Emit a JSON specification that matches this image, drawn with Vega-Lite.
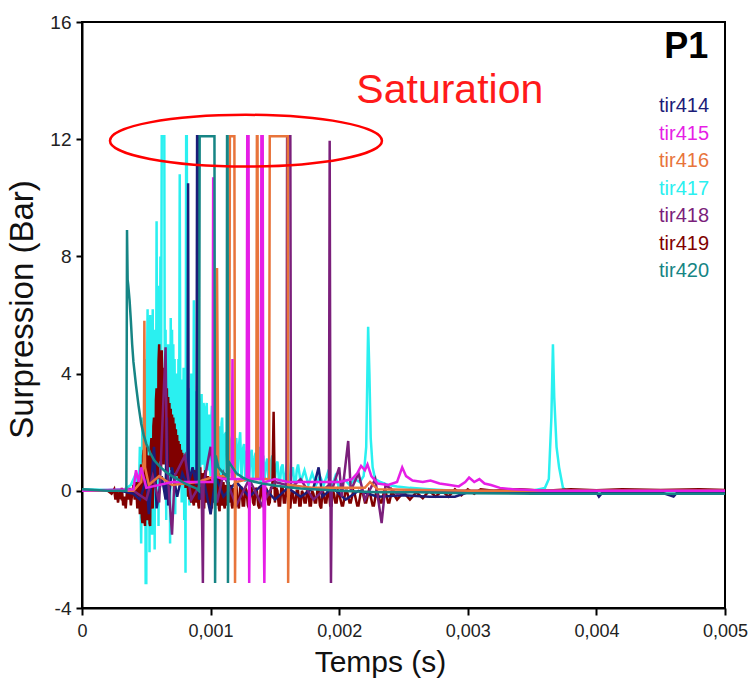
{
  "$schema": "https://vega.github.io/schema/vega-lite/v6.json",
  "width": 643,
  "height": 586,
  "autosize": {"type": "none"},
  "padding": {"left": 82, "top": 22, "right": 25, "bottom": 74},
  "background": "white",
  "config": {
    "font": "Liberation Sans",
    "view": {"stroke": "black", "strokeWidth": 2},
    "axis": {"grid": false, "domainColor": "black", "domainWidth": 2, "tickColor": "black", "tickWidth": 2, "labelColor": "#222", "titleColor": "#111", "labelFont": "Liberation Sans", "titleFont": "Liberation Sans", "titleFontWeight": "normal", "labelFlush": false}
  },
  "layer": [
    {
      "data": {"values": [
{"s":"tir417","t":0,"p":0.05},{"s":"tir417","t":0.0002,"p":0.03},{"s":"tir417","t":0.00033,"p":0.05},{"s":"tir417","t":0.00038,"p":0.2},{"s":"tir417","t":0.00042,"p":0.6},{"s":"tir417","t":0.00044,"p":-0.6},{"s":"tir417","t":0.00045,"p":1.5},{"s":"tir417","t":0.00046,"p":-1.8},{"s":"tir417","t":0.00047,"p":2.5},{"s":"tir417","t":0.00048,"p":-0.5},{"s":"tir417","t":0.00049,"p":4.5},{"s":"tir417","t":0.000495,"p":-3.15},{"s":"tir417","t":0.0005,"p":-3.15},{"s":"tir417","t":0.000505,"p":3.8},{"s":"tir417","t":0.00051,"p":6.2},{"s":"tir417","t":0.000515,"p":-1},{"s":"tir417","t":0.00052,"p":5.9},{"s":"tir417","t":0.000525,"p":-2.1},{"s":"tir417","t":0.00053,"p":6},{"s":"tir417","t":0.000535,"p":0.5},{"s":"tir417","t":0.00054,"p":5.5},{"s":"tir417","t":0.000545,"p":-1.5},{"s":"tir417","t":0.00055,"p":6.2},{"s":"tir417","t":0.000555,"p":1},{"s":"tir417","t":0.00056,"p":4.8},{"s":"tir417","t":0.000565,"p":-2},{"s":"tir417","t":0.00057,"p":5.5},{"s":"tir417","t":0.000575,"p":0.2},{"s":"tir417","t":0.00058,"p":9.2},{"s":"tir417","t":0.000585,"p":1.5},{"s":"tir417","t":0.00059,"p":7},{"s":"tir417","t":0.000595,"p":-1.2},{"s":"tir417","t":0.0006,"p":6},{"s":"tir417","t":0.000605,"p":2},{"s":"tir417","t":0.00061,"p":8},{"s":"tir417","t":0.000615,"p":3},{"s":"tir417","t":0.00062,"p":12.1},{"s":"tir417","t":0.00064,"p":12.1},{"s":"tir417","t":0.000645,"p":1},{"s":"tir417","t":0.00065,"p":5.5},{"s":"tir417","t":0.000655,"p":-1},{"s":"tir417","t":0.00066,"p":4},{"s":"tir417","t":0.000665,"p":-0.5},{"s":"tir417","t":0.00067,"p":5},{"s":"tir417","t":0.000675,"p":1.5},{"s":"tir417","t":0.00068,"p":4.8},{"s":"tir417","t":0.000685,"p":-1.8},{"s":"tir417","t":0.00069,"p":5.9},{"s":"tir417","t":0.000695,"p":0.5},{"s":"tir417","t":0.0007,"p":5.5},{"s":"tir417","t":0.000705,"p":2},{"s":"tir417","t":0.00071,"p":5},{"s":"tir417","t":0.000715,"p":0},{"s":"tir417","t":0.00072,"p":4.5},{"s":"tir417","t":0.000725,"p":-0.8},{"s":"tir417","t":0.00073,"p":4},{"s":"tir417","t":0.000735,"p":1},{"s":"tir417","t":0.00074,"p":3.6},{"s":"tir417","t":0.000745,"p":0.2},{"s":"tir417","t":0.00075,"p":4.5},{"s":"tir417","t":0.000755,"p":1},{"s":"tir417","t":0.00076,"p":10.8},{"s":"tir417","t":0.000765,"p":1.5},{"s":"tir417","t":0.00077,"p":3.8},{"s":"tir417","t":0.000775,"p":-0.4},{"s":"tir417","t":0.00078,"p":3.5},{"s":"tir417","t":0.000785,"p":0.5},{"s":"tir417","t":0.00079,"p":4.2},{"s":"tir417","t":0.000795,"p":-1},{"s":"tir417","t":0.0008,"p":3},{"s":"tir417","t":0.000805,"p":-2.8},{"s":"tir417","t":0.00081,"p":12.1},{"s":"tir417","t":0.000815,"p":12.1},{"s":"tir417","t":0.00082,"p":2.5},{"s":"tir417","t":0.000825,"p":0.3},{"s":"tir417","t":0.00083,"p":3.5},{"s":"tir417","t":0.000835,"p":-0.5},{"s":"tir417","t":0.00084,"p":3},{"s":"tir417","t":0.000845,"p":0.8},{"s":"tir417","t":0.00085,"p":4},{"s":"tir417","t":0.000855,"p":-0.3},{"s":"tir417","t":0.00086,"p":3.2},{"s":"tir417","t":0.000865,"p":1},{"s":"tir417","t":0.00087,"p":6.5},{"s":"tir417","t":0.000875,"p":0.5},{"s":"tir417","t":0.00088,"p":3.4},{"s":"tir417","t":0.000885,"p":0.6},{"s":"tir417","t":0.00089,"p":3},{"s":"tir417","t":0.000895,"p":1.2},{"s":"tir417","t":0.0009,"p":1},{"s":"tir417","t":0.000905,"p":3.2},{"s":"tir417","t":0.00091,"p":3.1},{"s":"tir417","t":0.000915,"p":1.1},{"s":"tir417","t":0.00092,"p":0.8},{"s":"tir417","t":0.000925,"p":2.9},{"s":"tir417","t":0.00093,"p":3.3},{"s":"tir417","t":0.000935,"p":0.9},{"s":"tir417","t":0.00094,"p":1},{"s":"tir417","t":0.000945,"p":3},{"s":"tir417","t":0.00095,"p":2.8},{"s":"tir417","t":0.000955,"p":0.7},{"s":"tir417","t":0.00096,"p":0.6},{"s":"tir417","t":0.000965,"p":2.7},{"s":"tir417","t":0.00097,"p":3},{"s":"tir417","t":0.000975,"p":0.9},{"s":"tir417","t":0.00098,"p":0.7},{"s":"tir417","t":0.000985,"p":2.5},{"s":"tir417","t":0.00099,"p":2.6},{"s":"tir417","t":0.000995,"p":0.8},{"s":"tir417","t":0.001,"p":0.5},{"s":"tir417","t":0.001005,"p":2.4},{"s":"tir417","t":0.00101,"p":2.9},{"s":"tir417","t":0.001015,"p":0.7},{"s":"tir417","t":0.00102,"p":0.6},{"s":"tir417","t":0.001025,"p":2.3},{"s":"tir417","t":0.00103,"p":2.4},{"s":"tir417","t":0.001035,"p":0.5},{"s":"tir417","t":0.00104,"p":0.8},{"s":"tir417","t":0.001045,"p":2.2},{"s":"tir417","t":0.00105,"p":2.6},{"s":"tir417","t":0.001055,"p":0.6},{"s":"tir417","t":0.00106,"p":0.5},{"s":"tir417","t":0.001065,"p":2.1},{"s":"tir417","t":0.00107,"p":2.2},{"s":"tir417","t":0.001075,"p":0.5},{"s":"tir417","t":0.00108,"p":0.6},{"s":"tir417","t":0.001085,"p":2.3},{"s":"tir417","t":0.00109,"p":2.5},{"s":"tir417","t":0.0011,"p":0.4},{"s":"tir417","t":0.00111,"p":1.9},{"s":"tir417","t":0.00112,"p":2},{"s":"tir417","t":0.00113,"p":0.5},{"s":"tir417","t":0.00114,"p":2.3},{"s":"tir417","t":0.00115,"p":0.6},{"s":"tir417","t":0.00116,"p":1.7},{"s":"tir417","t":0.00117,"p":1.9},{"s":"tir417","t":0.00118,"p":0.4},{"s":"tir417","t":0.00119,"p":1.6},{"s":"tir417","t":0.0012,"p":1.8},{"s":"tir417","t":0.00121,"p":0.5},{"s":"tir417","t":0.00122,"p":1.5},{"s":"tir417","t":0.00123,"p":2},{"s":"tir417","t":0.00124,"p":0.4},{"s":"tir417","t":0.00125,"p":1.4},{"s":"tir417","t":0.00126,"p":1.6},{"s":"tir417","t":0.00127,"p":0.3},{"s":"tir417","t":0.00128,"p":1.3},{"s":"tir417","t":0.00129,"p":1.5},{"s":"tir417","t":0.0013,"p":0.4},{"s":"tir417","t":0.00131,"p":1.2},{"s":"tir417","t":0.00132,"p":1.4},{"s":"tir417","t":0.00133,"p":0.3},{"s":"tir417","t":0.00134,"p":1.1},{"s":"tir417","t":0.00135,"p":1.3},{"s":"tir417","t":0.00136,"p":0.4},{"s":"tir417","t":0.00137,"p":1.2},{"s":"tir417","t":0.00138,"p":1.5},{"s":"tir417","t":0.00139,"p":0.3},{"s":"tir417","t":0.0014,"p":1},{"s":"tir417","t":0.00141,"p":1.2},{"s":"tir417","t":0.00142,"p":0.4},{"s":"tir417","t":0.00143,"p":0.9},{"s":"tir417","t":0.00144,"p":1.1},{"s":"tir417","t":0.00145,"p":0.4},{"s":"tir417","t":0.00146,"p":0.3},{"s":"tir417","t":0.00147,"p":1},{"s":"tir417","t":0.00148,"p":1.2},{"s":"tir417","t":0.00149,"p":0.4},{"s":"tir417","t":0.0015,"p":0.3},{"s":"tir417","t":0.00151,"p":0.9},{"s":"tir417","t":0.00152,"p":1},{"s":"tir417","t":0.00153,"p":0.4},{"s":"tir417","t":0.00154,"p":0.3},{"s":"tir417","t":0.00155,"p":0.8},{"s":"tir417","t":0.00156,"p":0.9},{"s":"tir417","t":0.00157,"p":0.4},{"s":"tir417","t":0.00158,"p":0.3},{"s":"tir417","t":0.00159,"p":0.8},{"s":"tir417","t":0.0016,"p":1},{"s":"tir417","t":0.00161,"p":0.4},{"s":"tir417","t":0.00162,"p":0.3},{"s":"tir417","t":0.00163,"p":0.7},{"s":"tir417","t":0.00164,"p":0.8},{"s":"tir417","t":0.00165,"p":0.3},{"s":"tir417","t":0.00166,"p":0.2},{"s":"tir417","t":0.00167,"p":0.7},{"s":"tir417","t":0.00168,"p":0.9},{"s":"tir417","t":0.0017,"p":0.3},{"s":"tir417","t":0.00173,"p":0.7},{"s":"tir417","t":0.00176,"p":0.2},{"s":"tir417","t":0.00179,"p":0.6},{"s":"tir417","t":0.00182,"p":0.2},{"s":"tir417","t":0.00185,"p":0.5},{"s":"tir417","t":0.00188,"p":0.2},{"s":"tir417","t":0.00191,"p":0.6},{"s":"tir417","t":0.00194,"p":0.1},{"s":"tir417","t":0.00197,"p":0.5},{"s":"tir417","t":0.002,"p":0.1},{"s":"tir417","t":0.00204,"p":0.4},{"s":"tir417","t":0.00208,"p":0.2},{"s":"tir417","t":0.00212,"p":0.4},{"s":"tir417","t":0.00216,"p":0.3},{"s":"tir417","t":0.00219,"p":0.5},{"s":"tir417","t":0.00221,"p":1.5},{"s":"tir417","t":0.002225,"p":5.6},{"s":"tir417","t":0.002235,"p":4},{"s":"tir417","t":0.002245,"p":1.8},{"s":"tir417","t":0.00226,"p":0.8},{"s":"tir417","t":0.00228,"p":0.4},{"s":"tir417","t":0.00232,"p":0.3},{"s":"tir417","t":0.00238,"p":0.2},{"s":"tir417","t":0.00245,"p":0.15},{"s":"tir417","t":0.00255,"p":0.1},{"s":"tir417","t":0.0027,"p":0.05},{"s":"tir417","t":0.0029,"p":0},{"s":"tir417","t":0.0031,"p":-0.05},{"s":"tir417","t":0.0033,"p":-0.05},{"s":"tir417","t":0.0035,"p":0},{"s":"tir417","t":0.0036,"p":0.1},{"s":"tir417","t":0.00363,"p":0.4},{"s":"tir417","t":0.00365,"p":2.5},{"s":"tir417","t":0.003662,"p":5},{"s":"tir417","t":0.003672,"p":3.2},{"s":"tir417","t":0.00369,"p":1.5},{"s":"tir417","t":0.00371,"p":0.8},{"s":"tir417","t":0.00374,"p":0.1},{"s":"tir417","t":0.0038,"p":-0.1},{"s":"tir417","t":0.004,"p":-0.1},{"s":"tir417","t":0.0043,"p":-0.08},{"s":"tir417","t":0.0046,"p":-0.1},{"s":"tir417","t":0.005,"p":-0.08},

{"s":"tir419","t":0,"p":0},{"s":"tir419","t":0.0001,"p":0},{"s":"tir419","t":0.0002,"p":0},{"s":"tir419","t":0.00023,"p":-0.1},{"s":"tir419","t":0.00025,"p":0.05},{"s":"tir419","t":0.00026,"p":-0.3},{"s":"tir419","t":0.00027,"p":0},{"s":"tir419","t":0.00028,"p":-0.4},{"s":"tir419","t":0.00029,"p":-0.1},{"s":"tir419","t":0.0003,"p":-0.2},{"s":"tir419","t":0.00031,"p":0.1},{"s":"tir419","t":0.00032,"p":-0.5},{"s":"tir419","t":0.00033,"p":-0.2},{"s":"tir419","t":0.00034,"p":-0.6},{"s":"tir419","t":0.00035,"p":0},{"s":"tir419","t":0.00036,"p":-0.3},{"s":"tir419","t":0.00037,"p":0.1},{"s":"tir419","t":0.00038,"p":-0.5},{"s":"tir419","t":0.00039,"p":-0.1},{"s":"tir419","t":0.0004,"p":0.2},{"s":"tir419","t":0.00041,"p":-0.3},{"s":"tir419","t":0.00042,"p":0.3},{"s":"tir419","t":0.00043,"p":-0.6},{"s":"tir419","t":0.00044,"p":0.5},{"s":"tir419","t":0.00045,"p":-0.8},{"s":"tir419","t":0.000455,"p":0.6},{"s":"tir419","t":0.00046,"p":0.9},{"s":"tir419","t":0.000465,"p":-0.9},{"s":"tir419","t":0.00047,"p":-1.1},{"s":"tir419","t":0.000475,"p":1.2},{"s":"tir419","t":0.00048,"p":1.4},{"s":"tir419","t":0.000485,"p":-1},{"s":"tir419","t":0.00049,"p":-1.2},{"s":"tir419","t":0.000495,"p":1.3},{"s":"tir419","t":0.0005,"p":1.5},{"s":"tir419","t":0.000505,"p":-0.9},{"s":"tir419","t":0.00051,"p":-1},{"s":"tir419","t":0.000515,"p":1.1},{"s":"tir419","t":0.00052,"p":1.2},{"s":"tir419","t":0.000525,"p":-1.1},{"s":"tir419","t":0.00053,"p":-1.2},{"s":"tir419","t":0.000535,"p":1.5},{"s":"tir419","t":0.00054,"p":1.8},{"s":"tir419","t":0.000545,"p":-0.5},{"s":"tir419","t":0.00055,"p":-0.6},{"s":"tir419","t":0.000555,"p":2.2},{"s":"tir419","t":0.00056,"p":2.5},{"s":"tir419","t":0.000565,"p":0.1},{"s":"tir419","t":0.00057,"p":0.2},{"s":"tir419","t":0.000575,"p":3.1},{"s":"tir419","t":0.00058,"p":3.5},{"s":"tir419","t":0.000585,"p":0.4},{"s":"tir419","t":0.00059,"p":0.5},{"s":"tir419","t":0.000595,"p":4.4},{"s":"tir419","t":0.0006,"p":5},{"s":"tir419","t":0.000605,"p":1},{"s":"tir419","t":0.00061,"p":4.6},{"s":"tir419","t":0.000615,"p":0.8},{"s":"tir419","t":0.00062,"p":4.8},{"s":"tir419","t":0.000625,"p":1.2},{"s":"tir419","t":0.00063,"p":4},{"s":"tir419","t":0.000635,"p":0.9},{"s":"tir419","t":0.00064,"p":4.2},{"s":"tir419","t":0.000645,"p":1.3},{"s":"tir419","t":0.00065,"p":3.8},{"s":"tir419","t":0.000655,"p":1},{"s":"tir419","t":0.00066,"p":3.5},{"s":"tir419","t":0.000665,"p":1.2},{"s":"tir419","t":0.00067,"p":3.2},{"s":"tir419","t":0.000675,"p":0.8},{"s":"tir419","t":0.00068,"p":3},{"s":"tir419","t":0.000685,"p":1},{"s":"tir419","t":0.00069,"p":2.8},{"s":"tir419","t":0.000695,"p":0.7},{"s":"tir419","t":0.0007,"p":2.6},{"s":"tir419","t":0.000705,"p":0.8},{"s":"tir419","t":0.00071,"p":2.5},{"s":"tir419","t":0.000715,"p":0.6},{"s":"tir419","t":0.00072,"p":2.3},{"s":"tir419","t":0.000725,"p":0.7},{"s":"tir419","t":0.00073,"p":2.1},{"s":"tir419","t":0.000735,"p":0.5},{"s":"tir419","t":0.00074,"p":1.9},{"s":"tir419","t":0.000745,"p":0.6},{"s":"tir419","t":0.00075,"p":1.7},{"s":"tir419","t":0.000755,"p":0.4},{"s":"tir419","t":0.00076,"p":1.6},{"s":"tir419","t":0.000765,"p":0.5},{"s":"tir419","t":0.00077,"p":1.4},{"s":"tir419","t":0.000775,"p":0.3},{"s":"tir419","t":0.00078,"p":1.3},{"s":"tir419","t":0.000785,"p":0.4},{"s":"tir419","t":0.00079,"p":1.2},{"s":"tir419","t":0.000795,"p":0.2},{"s":"tir419","t":0.0008,"p":1.1},{"s":"tir419","t":0.000805,"p":0.1},{"s":"tir419","t":0.00081,"p":0.9},{"s":"tir419","t":0.000815,"p":0.2},{"s":"tir419","t":0.00082,"p":0.8},{"s":"tir419","t":0.000825,"p":-0.2},{"s":"tir419","t":0.00083,"p":0.7},{"s":"tir419","t":0.000835,"p":-0.3},{"s":"tir419","t":0.00084,"p":0.6},{"s":"tir419","t":0.000845,"p":-0.3},{"s":"tir419","t":0.00085,"p":-0.4},{"s":"tir419","t":0.000855,"p":0.6},{"s":"tir419","t":0.00086,"p":0.5},{"s":"tir419","t":0.000865,"p":-0.4},{"s":"tir419","t":0.00087,"p":-0.5},{"s":"tir419","t":0.000875,"p":0.6},{"s":"tir419","t":0.00088,"p":0.7},{"s":"tir419","t":0.000885,"p":-0.3},{"s":"tir419","t":0.00089,"p":-0.4},{"s":"tir419","t":0.000895,"p":0.5},{"s":"tir419","t":0.0009,"p":0.6},{"s":"tir419","t":0.000905,"p":-0.5},{"s":"tir419","t":0.00091,"p":-0.6},{"s":"tir419","t":0.000915,"p":0.7},{"s":"tir419","t":0.00092,"p":0.8},{"s":"tir419","t":0.000925,"p":-0.2},{"s":"tir419","t":0.00093,"p":-0.3},{"s":"tir419","t":0.000935,"p":0.6},{"s":"tir419","t":0.00094,"p":0.5},{"s":"tir419","t":0.000945,"p":-0.5},{"s":"tir419","t":0.00095,"p":-0.6},{"s":"tir419","t":0.000955,"p":0.6},{"s":"tir419","t":0.00096,"p":0.7},{"s":"tir419","t":0.000965,"p":-0.3},{"s":"tir419","t":0.00097,"p":-0.4},{"s":"tir419","t":0.000975,"p":0.4},{"s":"tir419","t":0.00098,"p":0.5},{"s":"tir419","t":0.000985,"p":-0.4},{"s":"tir419","t":0.00099,"p":-0.5},{"s":"tir419","t":0.000995,"p":0.4},{"s":"tir419","t":0.001,"p":0.3},{"s":"tir419","t":0.001005,"p":-0.5},{"s":"tir419","t":0.00101,"p":-0.6},{"s":"tir419","t":0.001015,"p":0.3},{"s":"tir419","t":0.00102,"p":0.4},{"s":"tir419","t":0.001025,"p":-0.3},{"s":"tir419","t":0.00103,"p":-0.4},{"s":"tir419","t":0.001035,"p":0.3},{"s":"tir419","t":0.00104,"p":0.2},{"s":"tir419","t":0.001045,"p":-0.4},{"s":"tir419","t":0.00105,"p":-0.5},{"s":"tir419","t":0.001055,"p":0.5},{"s":"tir419","t":0.00106,"p":0.6},{"s":"tir419","t":0.001065,"p":-0.6},{"s":"tir419","t":0.00107,"p":-0.7},{"s":"tir419","t":0.001075,"p":0.3},{"s":"tir419","t":0.00108,"p":0.4},{"s":"tir419","t":0.001085,"p":-0.4},{"s":"tir419","t":0.00109,"p":-0.5},{"s":"tir419","t":0.001095,"p":0.2},{"s":"tir419","t":0.0011,"p":0.3},{"s":"tir419","t":0.001105,"p":-0.5},{"s":"tir419","t":0.00111,"p":-0.6},{"s":"tir419","t":0.001115,"p":0.1},{"s":"tir419","t":0.00112,"p":0.2},{"s":"tir419","t":0.001125,"p":-0.4},{"s":"tir419","t":0.00113,"p":-0.5},{"s":"tir419","t":0.001135,"p":0.2},{"s":"tir419","t":0.00114,"p":0.3},{"s":"tir419","t":0.001145,"p":-0.3},{"s":"tir419","t":0.00115,"p":-0.4},{"s":"tir419","t":0.001155,"p":0.1},{"s":"tir419","t":0.00116,"p":0.2},{"s":"tir419","t":0.001165,"p":-0.5},{"s":"tir419","t":0.00117,"p":-0.6},{"s":"tir419","t":0.00118,"p":0.1},{"s":"tir419","t":0.00119,"p":-0.5},{"s":"tir419","t":0.0012,"p":0.2},{"s":"tir419","t":0.00121,"p":-0.4},{"s":"tir419","t":0.00122,"p":-0.6},{"s":"tir419","t":0.00123,"p":0.1},{"s":"tir419","t":0.00124,"p":0.1},{"s":"tir419","t":0.00125,"p":-0.5},{"s":"tir419","t":0.00126,"p":-0.5},{"s":"tir419","t":0.00127,"p":0.1},{"s":"tir419","t":0.00128,"p":0},{"s":"tir419","t":0.00129,"p":-0.5},{"s":"tir419","t":0.0013,"p":-0.6},{"s":"tir419","t":0.00131,"p":0.1},{"s":"tir419","t":0.00132,"p":0.1},{"s":"tir419","t":0.00133,"p":-0.4},{"s":"tir419","t":0.00134,"p":-0.5},{"s":"tir419","t":0.00135,"p":0.1},{"s":"tir419","t":0.00136,"p":0},{"s":"tir419","t":0.00137,"p":-0.5},{"s":"tir419","t":0.00138,"p":-0.6},{"s":"tir419","t":0.00139,"p":0.1},{"s":"tir419","t":0.0014,"p":0.1},{"s":"tir419","t":0.00141,"p":-0.4},{"s":"tir419","t":0.00142,"p":-0.5},{"s":"tir419","t":0.00143,"p":0.1},{"s":"tir419","t":0.00144,"p":0},{"s":"tir419","t":0.00145,"p":-0.5},{"s":"tir419","t":0.00146,"p":-0.4},{"s":"tir419","t":0.00147,"p":0.1},{"s":"tir419","t":0.00148,"p":0.1},{"s":"tir419","t":0.00149,"p":2.7},{"s":"tir419","t":0.0015,"p":-0.4},{"s":"tir419","t":0.00151,"p":0.1},{"s":"tir419","t":0.00152,"p":0},{"s":"tir419","t":0.00153,"p":-0.5},{"s":"tir419","t":0.00154,"p":-0.5},{"s":"tir419","t":0.00155,"p":0.1},{"s":"tir419","t":0.00156,"p":0.1},{"s":"tir419","t":0.00157,"p":-0.4},{"s":"tir419","t":0.00158,"p":-0.4},{"s":"tir419","t":0.00159,"p":0.1},{"s":"tir419","t":0.0016,"p":0},{"s":"tir419","t":0.00161,"p":-0.5},{"s":"tir419","t":0.00162,"p":-0.6},{"s":"tir419","t":0.00163,"p":0},{"s":"tir419","t":0.00164,"p":-0.1},{"s":"tir419","t":0.00165,"p":-0.4},{"s":"tir419","t":0.00166,"p":-0.4},{"s":"tir419","t":0.00167,"p":0},{"s":"tir419","t":0.00168,"p":0},{"s":"tir419","t":0.00169,"p":-0.5},{"s":"tir419","t":0.0017,"p":-0.5},{"s":"tir419","t":0.00171,"p":0},{"s":"tir419","t":0.00172,"p":-0.1},{"s":"tir419","t":0.00173,"p":-0.4},{"s":"tir419","t":0.00174,"p":-0.4},{"s":"tir419","t":0.00175,"p":0},{"s":"tir419","t":0.00176,"p":0},{"s":"tir419","t":0.00177,"p":-0.5},{"s":"tir419","t":0.00178,"p":-0.5},{"s":"tir419","t":0.00179,"p":0},{"s":"tir419","t":0.0018,"p":-0.1},{"s":"tir419","t":0.00181,"p":-0.4},{"s":"tir419","t":0.00182,"p":-0.4},{"s":"tir419","t":0.00183,"p":0},{"s":"tir419","t":0.00184,"p":0},{"s":"tir419","t":0.00185,"p":-0.5},{"s":"tir419","t":0.00186,"p":-0.6},{"s":"tir419","t":0.00187,"p":0},{"s":"tir419","t":0.00188,"p":-0.1},{"s":"tir419","t":0.00189,"p":-0.4},{"s":"tir419","t":0.0019,"p":-0.4},{"s":"tir419","t":0.00191,"p":0},{"s":"tir419","t":0.00192,"p":0},{"s":"tir419","t":0.00193,"p":-0.5},{"s":"tir419","t":0.00194,"p":-0.5},{"s":"tir419","t":0.00195,"p":0},{"s":"tir419","t":0.00196,"p":-0.1},{"s":"tir419","t":0.00197,"p":-0.4},{"s":"tir419","t":0.00198,"p":-0.4},{"s":"tir419","t":0.00199,"p":0},{"s":"tir419","t":0.002,"p":-0.1},{"s":"tir419","t":0.00202,"p":-0.5},{"s":"tir419","t":0.00203,"p":-0.5},{"s":"tir419","t":0.00205,"p":0},{"s":"tir419","t":0.00206,"p":0},{"s":"tir419","t":0.00208,"p":-0.4},{"s":"tir419","t":0.00209,"p":-0.4},{"s":"tir419","t":0.00211,"p":0},{"s":"tir419","t":0.00212,"p":-0.1},{"s":"tir419","t":0.00214,"p":-0.5},{"s":"tir419","t":0.00215,"p":-0.5},{"s":"tir419","t":0.00217,"p":0},{"s":"tir419","t":0.00218,"p":0},{"s":"tir419","t":0.0022,"p":-0.4},{"s":"tir419","t":0.00221,"p":-0.4},{"s":"tir419","t":0.00223,"p":0},{"s":"tir419","t":0.00224,"p":-0.1},{"s":"tir419","t":0.00226,"p":-0.5},{"s":"tir419","t":0.00227,"p":-0.5},{"s":"tir419","t":0.00229,"p":0},{"s":"tir419","t":0.0023,"p":-0.1},{"s":"tir419","t":0.00232,"p":-0.4},{"s":"tir419","t":0.00233,"p":-0.4},{"s":"tir419","t":0.00235,"p":0},{"s":"tir419","t":0.00236,"p":0},{"s":"tir419","t":0.00238,"p":-0.4},{"s":"tir419","t":0.00239,"p":-0.4},{"s":"tir419","t":0.00241,"p":0},{"s":"tir419","t":0.00242,"p":-0.1},{"s":"tir419","t":0.00245,"p":-0.3},{"s":"tir419","t":0.0025,"p":-0.05},{"s":"tir419","t":0.00255,"p":-0.3},{"s":"tir419","t":0.0026,"p":-0.05},{"s":"tir419","t":0.00265,"p":-0.25},{"s":"tir419","t":0.0027,"p":0},{"s":"tir419","t":0.00275,"p":-0.2},{"s":"tir419","t":0.0028,"p":0},{"s":"tir419","t":0.00285,"p":-0.2},{"s":"tir419","t":0.0029,"p":0.05},{"s":"tir419","t":0.00295,"p":-0.15},{"s":"tir419","t":0.003,"p":0.05},{"s":"tir419","t":0.00305,"p":-0.1},{"s":"tir419","t":0.0031,"p":0.05},{"s":"tir419","t":0.0032,"p":0},{"s":"tir419","t":0.0034,"p":0.05},{"s":"tir419","t":0.0036,"p":0},{"s":"tir419","t":0.0038,"p":0.05},{"s":"tir419","t":0.004,"p":0.02},{"s":"tir419","t":0.0042,"p":0.05},{"s":"tir419","t":0.0045,"p":0.03},{"s":"tir419","t":0.0048,"p":0.05},{"s":"tir419","t":0.005,"p":0.03},

{"s":"tir414","t":0,"p":0.03},{"s":"tir414","t":0.0003,"p":0},{"s":"tir414","t":0.0004,"p":-0.1},{"s":"tir414","t":0.00045,"p":-0.3},{"s":"tir414","t":0.0005,"p":0.4},{"s":"tir414","t":0.00052,"p":-0.8},{"s":"tir414","t":0.00056,"p":1.5},{"s":"tir414","t":0.00058,"p":-0.6},{"s":"tir414","t":0.00062,"p":0.5},{"s":"tir414","t":0.00065,"p":-0.3},{"s":"tir414","t":0.00066,"p":2.5},{"s":"tir414","t":0.00067,"p":-0.5},{"s":"tir414","t":0.0007,"p":0.8},{"s":"tir414","t":0.00074,"p":-0.2},{"s":"tir414","t":0.00078,"p":0.6},{"s":"tir414","t":0.00082,"p":0.2},{"s":"tir414","t":0.000825,"p":10.5},{"s":"tir414","t":0.00083,"p":0.3},{"s":"tir414","t":0.00086,"p":0.8},{"s":"tir414","t":0.00089,"p":0.2},{"s":"tir414","t":0.000895,"p":12.1},{"s":"tir414","t":0.000905,"p":12.1},{"s":"tir414","t":0.00091,"p":-0.3},{"s":"tir414","t":0.00095,"p":0.3},{"s":"tir414","t":0.001,"p":-0.8},{"s":"tir414","t":0.00104,"p":0.5},{"s":"tir414","t":0.0011,"p":-0.2},{"s":"tir414","t":0.0012,"p":0.3},{"s":"tir414","t":0.0013,"p":-0.2},{"s":"tir414","t":0.0014,"p":0.2},{"s":"tir414","t":0.0015,"p":-0.3},{"s":"tir414","t":0.0016,"p":0.1},{"s":"tir414","t":0.0017,"p":-0.2},{"s":"tir414","t":0.0018,"p":0.1},{"s":"tir414","t":0.00184,"p":0.8},{"s":"tir414","t":0.00187,"p":-0.2},{"s":"tir414","t":0.00195,"p":0.1},{"s":"tir414","t":0.00205,"p":-0.3},{"s":"tir414","t":0.00215,"p":0},{"s":"tir414","t":0.0023,"p":-0.2},{"s":"tir414","t":0.0025,"p":-0.15},{"s":"tir414","t":0.0027,"p":-0.2},{"s":"tir414","t":0.0029,"p":-0.2},{"s":"tir414","t":0.003,"p":-0.05},{"s":"tir414","t":0.0035,"p":-0.05},{"s":"tir414","t":0.004,"p":-0.05},{"s":"tir414","t":0.00402,"p":-0.2},{"s":"tir414","t":0.00405,"p":-0.05},{"s":"tir414","t":0.0045,"p":-0.05},{"s":"tir414","t":0.0046,"p":-0.2},{"s":"tir414","t":0.00463,"p":-0.05},{"s":"tir414","t":0.005,"p":-0.05},

{"s":"tir418","t":0,"p":0},{"s":"tir418","t":0.0004,"p":0},{"s":"tir418","t":0.0005,"p":-0.3},{"s":"tir418","t":0.00055,"p":0.5},{"s":"tir418","t":0.0006,"p":-0.4},{"s":"tir418","t":0.00065,"p":4.9},{"s":"tir418","t":0.00066,"p":1},{"s":"tir418","t":0.0007,"p":-1.5},{"s":"tir418","t":0.00072,"p":0.5},{"s":"tir418","t":0.0008,"p":1.2},{"s":"tir418","t":0.00085,"p":-0.3},{"s":"tir418","t":0.00093,"p":0.3},{"s":"tir418","t":0.00094,"p":-3.15},{"s":"tir418","t":0.000945,"p":0.2},{"s":"tir418","t":0.001,"p":1.5},{"s":"tir418","t":0.00105,"p":-0.4},{"s":"tir418","t":0.0011,"p":0.6},{"s":"tir418","t":0.0012,"p":-0.5},{"s":"tir418","t":0.0013,"p":0.4},{"s":"tir418","t":0.0014,"p":-0.5},{"s":"tir418","t":0.0015,"p":0.3},{"s":"tir418","t":0.00159,"p":0.2},{"s":"tir418","t":0.001595,"p":12.1},{"s":"tir418","t":0.00162,"p":12.1},{"s":"tir418","t":0.001625,"p":0.1},{"s":"tir418","t":0.0017,"p":0.4},{"s":"tir418","t":0.0018,"p":-0.3},{"s":"tir418","t":0.00192,"p":0.2},{"s":"tir418","t":0.001926,"p":11.95},{"s":"tir418","t":0.001932,"p":0},{"s":"tir418","t":0.001936,"p":-3.15},{"s":"tir418","t":0.001942,"p":0},{"s":"tir418","t":0.002,"p":0.8},{"s":"tir418","t":0.00202,"p":-0.2},{"s":"tir418","t":0.00207,"p":1.7},{"s":"tir418","t":0.00209,"p":0},{"s":"tir418","t":0.00215,"p":0.6},{"s":"tir418","t":0.0022,"p":-0.3},{"s":"tir418","t":0.00228,"p":0.4},{"s":"tir418","t":0.00233,"p":-1.1},{"s":"tir418","t":0.00236,"p":0.2},{"s":"tir418","t":0.00245,"p":-0.1},{"s":"tir418","t":0.0026,"p":0},{"s":"tir418","t":0.005,"p":0},

{"s":"tir416","t":0,"p":0},{"s":"tir416","t":0.0004,"p":0},{"s":"tir416","t":0.00046,"p":0.3},{"s":"tir416","t":0.00048,"p":1},{"s":"tir416","t":0.000485,"p":5.8},{"s":"tir416","t":0.00049,"p":0.8},{"s":"tir416","t":0.00052,"p":0.2},{"s":"tir416","t":0.0006,"p":0.5},{"s":"tir416","t":0.0007,"p":0.2},{"s":"tir416","t":0.0009,"p":0.3},{"s":"tir416","t":0.00104,"p":0.5},{"s":"tir416","t":0.00105,"p":7.6},{"s":"tir416","t":0.00106,"p":0.5},{"s":"tir416","t":0.001145,"p":0.5},{"s":"tir416","t":0.00115,"p":12.1},{"s":"tir416","t":0.001185,"p":12.1},{"s":"tir416","t":0.00119,"p":-3.15},{"s":"tir416","t":0.001195,"p":0.3},{"s":"tir416","t":0.0013,"p":0.4},{"s":"tir416","t":0.001355,"p":0.4},{"s":"tir416","t":0.00136,"p":12.1},{"s":"tir416","t":0.001365,"p":12.1},{"s":"tir416","t":0.00137,"p":0.4},{"s":"tir416","t":0.001455,"p":0.4},{"s":"tir416","t":0.00146,"p":12.1},{"s":"tir416","t":0.0016,"p":12.1},{"s":"tir416","t":0.001603,"p":-3.15},{"s":"tir416","t":0.001608,"p":0.2},{"s":"tir416","t":0.0018,"p":0.1},{"s":"tir416","t":0.0022,"p":0.1},{"s":"tir416","t":0.00224,"p":0.3},{"s":"tir416","t":0.0023,"p":0.05},{"s":"tir416","t":0.003,"p":0},{"s":"tir416","t":0.005,"p":0},

{"s":"tir415","t":0,"p":0},{"s":"tir415","t":0.0004,"p":0.05},{"s":"tir415","t":0.00042,"p":0.7},{"s":"tir415","t":0.00044,"p":0.3},{"s":"tir415","t":0.00046,"p":0.8},{"s":"tir415","t":0.0005,"p":0.1},{"s":"tir415","t":0.0007,"p":0.3},{"s":"tir415","t":0.001015,"p":0.3},{"s":"tir415","t":0.00102,"p":10.7},{"s":"tir415","t":0.001025,"p":0.5},{"s":"tir415","t":0.0011,"p":0.4},{"s":"tir415","t":0.001165,"p":0.4},{"s":"tir415","t":0.00117,"p":4.5},{"s":"tir415","t":0.001175,"p":0.4},{"s":"tir415","t":0.00128,"p":0.4},{"s":"tir415","t":0.001285,"p":12.1},{"s":"tir415","t":0.001295,"p":12.1},{"s":"tir415","t":0.0013,"p":-3.15},{"s":"tir415","t":0.001305,"p":0.4},{"s":"tir415","t":0.00139,"p":0.4},{"s":"tir415","t":0.001395,"p":12.1},{"s":"tir415","t":0.001405,"p":12.1},{"s":"tir415","t":0.00141,"p":0.3},{"s":"tir415","t":0.001418,"p":-3.15},{"s":"tir415","t":0.001425,"p":0.3},{"s":"tir415","t":0.0015,"p":0.4},{"s":"tir415","t":0.0016,"p":0.3},{"s":"tir415","t":0.0018,"p":0.3},{"s":"tir415","t":0.002,"p":0.3},{"s":"tir415","t":0.0021,"p":0.4},{"s":"tir415","t":0.00214,"p":0.6},{"s":"tir415","t":0.00217,"p":0.85},{"s":"tir415","t":0.0022,"p":0.7},{"s":"tir415","t":0.00222,"p":0.9},{"s":"tir415","t":0.00225,"p":0.5},{"s":"tir415","t":0.0023,"p":0.25},{"s":"tir415","t":0.00238,"p":0.2},{"s":"tir415","t":0.00245,"p":0.3},{"s":"tir415","t":0.00249,"p":0.8},{"s":"tir415","t":0.00252,"p":0.5},{"s":"tir415","t":0.00257,"p":0.35},{"s":"tir415","t":0.00265,"p":0.3},{"s":"tir415","t":0.00271,"p":0.35},{"s":"tir415","t":0.00278,"p":0.25},{"s":"tir415","t":0.00286,"p":0.2},{"s":"tir415","t":0.00293,"p":0.15},{"s":"tir415","t":0.00298,"p":0.3},{"s":"tir415","t":0.00301,"p":0.45},{"s":"tir415","t":0.00305,"p":0.3},{"s":"tir415","t":0.00309,"p":0.4},{"s":"tir415","t":0.00313,"p":0.25},{"s":"tir415","t":0.00318,"p":0.2},{"s":"tir415","t":0.00325,"p":0.1},{"s":"tir415","t":0.00335,"p":0.05},{"s":"tir415","t":0.0036,"p":0},{"s":"tir415","t":0.005,"p":0},

{"s":"tir420","t":0,"p":0.05},{"s":"tir420","t":0.0001,"p":0.03},{"s":"tir420","t":0.0002,"p":0},{"s":"tir420","t":0.0003,"p":0},{"s":"tir420","t":0.000345,"p":0},{"s":"tir420","t":0.00035,"p":8.9},{"s":"tir420","t":0.000355,"p":7.2},{"s":"tir420","t":0.00036,"p":7},{"s":"tir420","t":0.00037,"p":6.5},{"s":"tir420","t":0.00038,"p":5.8},{"s":"tir420","t":0.00039,"p":5},{"s":"tir420","t":0.0004,"p":4.4},{"s":"tir420","t":0.00042,"p":3.6},{"s":"tir420","t":0.00044,"p":2.9},{"s":"tir420","t":0.00046,"p":2.3},{"s":"tir420","t":0.00048,"p":1.9},{"s":"tir420","t":0.0005,"p":1.6},{"s":"tir420","t":0.00053,"p":1.3},{"s":"tir420","t":0.00056,"p":1.05},{"s":"tir420","t":0.0006,"p":0.85},{"s":"tir420","t":0.00065,"p":0.65},{"s":"tir420","t":0.0007,"p":0.5},{"s":"tir420","t":0.00075,"p":0.38},{"s":"tir420","t":0.0008,"p":0.25},{"s":"tir420","t":0.00085,"p":0.15},{"s":"tir420","t":0.00089,"p":0.08},{"s":"tir420","t":0.00091,"p":0},{"s":"tir420","t":0.000915,"p":12.1},{"s":"tir420","t":0.00103,"p":12.1},{"s":"tir420","t":0.001035,"p":-3.15},{"s":"tir420","t":0.00104,"p":1.2},{"s":"tir420","t":0.00106,"p":0.8},{"s":"tir420","t":0.0011,"p":0.6},{"s":"tir420","t":0.001125,"p":0.5},{"s":"tir420","t":0.001128,"p":12.1},{"s":"tir420","t":0.001132,"p":12.1},{"s":"tir420","t":0.001135,"p":-3.15},{"s":"tir420","t":0.00114,"p":1},{"s":"tir420","t":0.00117,"p":0.8},{"s":"tir420","t":0.0012,"p":0.6},{"s":"tir420","t":0.00125,"p":0.45},{"s":"tir420","t":0.0013,"p":0.35},{"s":"tir420","t":0.0014,"p":0.25},{"s":"tir420","t":0.0015,"p":0.18},{"s":"tir420","t":0.0016,"p":0.12},{"s":"tir420","t":0.0017,"p":0.08},{"s":"tir420","t":0.0018,"p":0.05},{"s":"tir420","t":0.002,"p":0},{"s":"tir420","t":0.0023,"p":-0.05},{"s":"tir420","t":0.0026,"p":-0.05},{"s":"tir420","t":0.003,"p":-0.08},{"s":"tir420","t":0.0035,"p":-0.1},{"s":"tir420","t":0.004,"p":-0.1},{"s":"tir420","t":0.0045,"p":-0.1},{"s":"tir420","t":0.005,"p":-0.1}
      ]},
      "mark": {"type": "line", "strokeWidth": 2.5, "interpolate": "linear"},
      "encoding": {
        "x": {"field": "t", "type": "quantitative", "scale": {"domain": [0, 0.005], "nice": false, "zero": false},
          "axis": {"title": "Temps (s)", "values": [0, 0.001, 0.002, 0.003, 0.004, 0.005], "labelExpr": "datum.value == 0 ? '0' : replace(format(datum.value, '.3f'), '.', ',')", "labelFontSize": 18, "tickSize": 7, "labelPadding": 7, "titleFontSize": 30, "titlePadding": 7, "titleX": 298}},
        "y": {"field": "p", "type": "quantitative", "scale": {"domain": [-4, 16], "nice": false, "zero": false},
          "axis": {"title": "Surpression (Bar)", "values": [-4, 0, 4, 8, 12, 16], "labelExpr": "'' + datum.value", "labelFontSize": 19, "tickSize": 6, "labelPadding": 5, "titleFontSize": 33, "titlePadding": 10, "titleY": 287}},
        "color": {"field": "s", "type": "nominal",
          "scale": {"domain": ["tir414", "tir415", "tir416", "tir417", "tir418", "tir419", "tir420"], "range": ["#1c1c78", "#e61ee6", "#e8743b", "#2af0f0", "#7b1f7b", "#800000", "#168585"]},
          "legend": {"title": null, "orient": "none", "legendX": 557, "legendY": 74, "symbolSize": 0, "symbolOpacity": 0, "symbolStrokeWidth": 0, "labelOffset": 0, "padding": 0, "rowPadding": 7.5, "labelFontSize": 20, "labelFont": "Liberation Sans", "labelColor": {"expr": "scale('color', datum.value)"}}}
      }
    },
    {
      "data": {"values": [{"label": "Saturation", "t": 0.00286, "p": 13.65}]},
      "mark": {"type": "text", "fontSize": 41, "color": "#ff1a1a", "align": "center", "baseline": "middle", "font": "Liberation Sans"},
      "encoding": {
        "x": {"field": "t", "type": "quantitative", "title": "Temps (s)"},
        "y": {"field": "p", "type": "quantitative", "title": "Surpression (Bar)"},
        "text": {"field": "label"}
      }
    },
    {
      "data": {"values": [{"label": "P1", "t": 0.00487, "p": 15.15}]},
      "mark": {"type": "text", "fontSize": 36, "fontWeight": "bold", "color": "#000000", "align": "right", "baseline": "middle", "font": "Liberation Sans"},
      "encoding": {
        "x": {"field": "t", "type": "quantitative", "title": "Temps (s)"},
        "y": {"field": "p", "type": "quantitative", "title": "Surpression (Bar)"},
        "text": {"field": "label"}
      }
    },
    {
      "data": {"values": [{"t": 0.001275, "p": 11.95}]},
      "mark": {"type": "point", "shape": "M -1 0 A 1 0.19 0 1 0 1 0 A 1 0.19 0 1 0 -1 0 Z", "size": 73984, "filled": false, "stroke": "#ff0000", "strokeWidth": 2.5, "opacity": 1},
      "encoding": {
        "x": {"field": "t", "type": "quantitative", "title": "Temps (s)"},
        "y": {"field": "p", "type": "quantitative", "title": "Surpression (Bar)"}
      }
    }
  ]
}
